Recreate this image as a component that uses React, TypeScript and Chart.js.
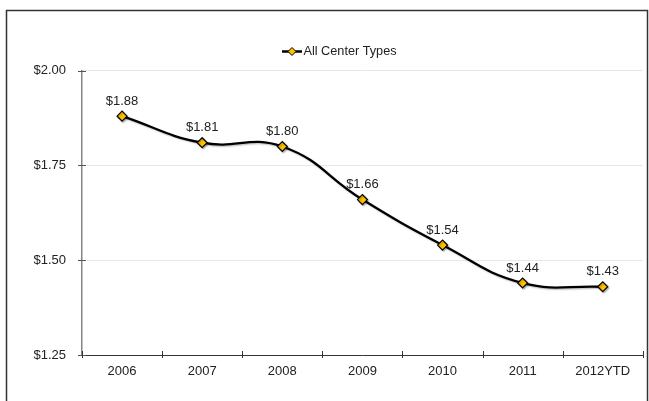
import React, { useEffect, useRef } from "react";
import { Chart, registerables } from "chart.js";

Chart.register(...registerables);

const categories = ["2006", "2007", "2008", "2009", "2010", "2011", "2012YTD"];
const values = [1.88, 1.81, 1.8, 1.66, 1.54, 1.44, 1.43];
const seriesName = "All Center Types";
const yMin = 1.25;
const yMax = 2.0;
const yStep = 0.25;

const FONT = "'Liberation Sans', Arial, sans-serif";
const TEXT = "#222222";
const GOLD = "#FFC000";

const decorPlugin = {
  id: "decor",
  beforeDraw(chart: any) {
    const ctx = chart.ctx;
    ctx.save();
    ctx.fillStyle = "#ffffff";
    ctx.fillRect(0, 0, chart.width, chart.height);
    ctx.strokeStyle = "#333333";
    ctx.lineWidth = 1.5;
    ctx.strokeRect(6.5, 10.5, 641, 420);
    ctx.restore();
  },
  beforeDatasetsDraw(chart: any) {
    const ctx = chart.ctx;
    ctx.save();
    ctx.shadowColor = "rgba(0,0,0,0.25)";
    ctx.shadowOffsetX = 1.2;
    ctx.shadowOffsetY = 1.2;
    ctx.shadowBlur = 1.5;
  },
  afterDatasetsDraw(chart: any) {
    const ctx = chart.ctx;
    ctx.restore();
    // data labels
    const meta = chart.getDatasetMeta(0);
    ctx.save();
    ctx.font = `13px ${FONT}`;
    ctx.fillStyle = TEXT;
    ctx.textAlign = "center";
    ctx.textBaseline = "middle";
    meta.data.forEach((pt: any, i: number) => {
      ctx.fillText("$" + values[i].toFixed(2), pt.x, pt.y - 15);
    });
    ctx.restore();
  },
  afterDraw(chart: any) {
    const ctx = chart.ctx;
    const area = chart.chartArea;
    const ys = chart.scales.y;
    ctx.save();
    // y ticks crossing
    ctx.strokeStyle = "#555555";
    ctx.lineWidth = 1;
    ys.ticks.forEach((t: any) => {
      const y = Math.round(ys.getPixelForValue(t.value)) + 0.5;
      ctx.beginPath();
      ctx.moveTo(area.left - 4, y);
      ctx.lineTo(area.left + 4, y);
      ctx.stroke();
    });
    // x ticks crossing at category boundaries
    ctx.strokeStyle = "#333333";
    const n = categories.length;
    for (let i = 0; i <= n; i++) {
      const x = Math.round(area.left + (i * (area.right - area.left)) / n) + 0.5;
      ctx.beginPath();
      ctx.moveTo(x, area.bottom - 4);
      ctx.lineTo(x, area.bottom + 3);
      ctx.stroke();
    }
    // legend
    const lx = 282;
    const ly = 51.5;
    ctx.strokeStyle = "#000000";
    ctx.lineWidth = 2.5;
    ctx.beginPath();
    ctx.moveTo(lx, ly);
    ctx.lineTo(lx + 20, ly);
    ctx.stroke();
    ctx.fillStyle = GOLD;
    ctx.lineWidth = 1;
    ctx.beginPath();
    ctx.moveTo(lx + 10, ly - 4);
    ctx.lineTo(lx + 14, ly);
    ctx.lineTo(lx + 10, ly + 4);
    ctx.lineTo(lx + 6, ly);
    ctx.closePath();
    ctx.fill();
    ctx.stroke();
    ctx.font = `12.7px ${FONT}`;
    ctx.fillStyle = TEXT;
    ctx.textAlign = "left";
    ctx.textBaseline = "middle";
    ctx.fillText(seriesName, lx + 21.5, ly);
    ctx.restore();
  },
};

export default function App() {
  const ref = useRef<HTMLCanvasElement | null>(null);
  useEffect(() => {
    if (!ref.current) return;
    const chart = new Chart(ref.current, {
      type: "line",
      data: {
        labels: categories,
        datasets: [
          {
            label: seriesName,
            data: values,
            borderColor: "#000000",
            borderWidth: 2.3,
            tension: 0.45,
            pointStyle: "rectRot",
            pointRadius: 5,
            pointBackgroundColor: GOLD,
            pointBorderColor: "#000000",
            pointBorderWidth: 1.2,
          },
        ],
      },
      options: {
        responsive: false,
        animation: false,
        devicePixelRatio: 1,
        layout: { padding: { left: 0, right: 2, top: 70.7, bottom: 0 } },
        plugins: {
          legend: { display: false },
          tooltip: { enabled: false },
        },
        scales: {
          x: {
            offset: true,
            afterFit: (s: any) => {
              s.height = 46;
            },
            grid: { display: false, drawTicks: false },
            border: { display: true, color: "#333333", width: 1 },
            ticks: { font: { family: FONT, size: 13 }, color: TEXT, padding: 9 },
          },
          y: {
            min: yMin,
            max: yMax,
            afterFit: (s: any) => {
              s.width = 82;
            },
            grid: { color: "#e8e8e8", lineWidth: 1, drawTicks: false },
            border: { display: true, color: "#858585", width: 1.5 },
            ticks: {
              stepSize: yStep,
              font: { family: FONT, size: 13 },
              color: TEXT,
              padding: 16,
              callback: (v: any) => "$" + Number(v).toFixed(2),
            },
          },
        },
      },
      plugins: [decorPlugin],
    });
    return () => chart.destroy();
  }, []);
  return (
    <div style={{ position: "absolute", left: 0, top: 0, width: 649, height: 401 }}>
      <canvas ref={ref} width={649} height={401} style={{ display: "block" }} />
    </div>
  );
}
